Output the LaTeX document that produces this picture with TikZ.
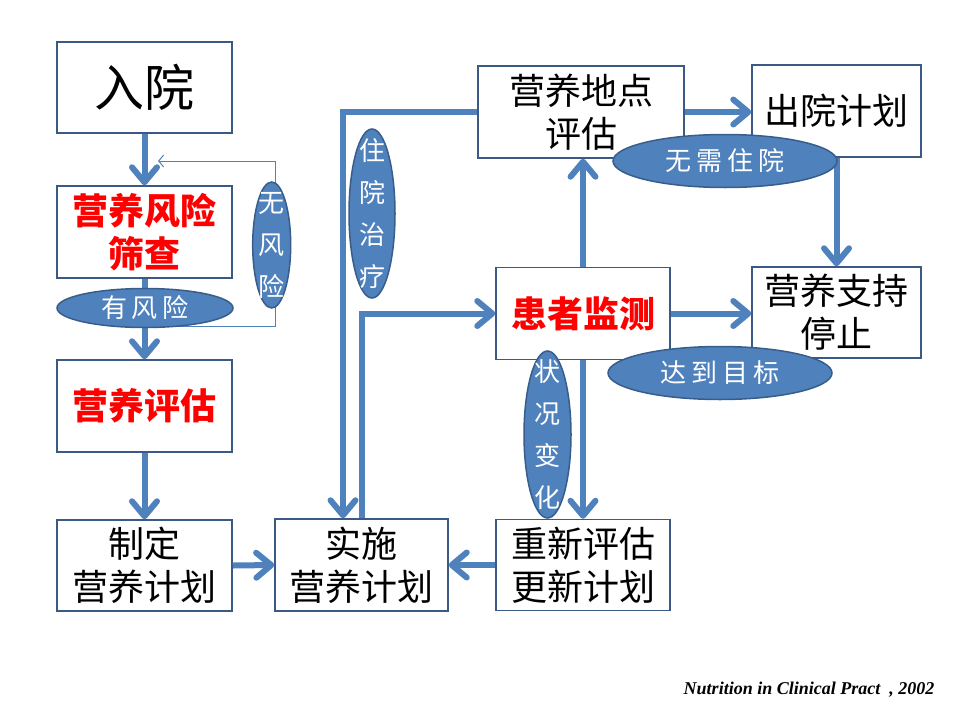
\documentclass[tikz,border=0pt]{standalone}
\usepackage{fontspec}
\setmainfont{Liberation Serif}
\newfontfamily\cjk{Noto Sans CJK SC}
\usetikzlibrary{arrows.meta,shapes.geometric}
\definecolor{arrowblue}{HTML}{4F81BD}
\definecolor{edgeblue}{HTML}{385D8A}
\definecolor{boxedge}{HTML}{3A5A85}
\newcommand{\gapx}{\hspace{5pt}}
\begin{document}
\begin{tikzpicture}[x=1pt,y=-1pt,
  box/.style={draw=boxedge, line width=1.5pt, fill=white, inner sep=0pt, align=center,
    font=\cjk\fontsize{36}{43}\selectfont},
  hot/.style={text=red, font=\cjk\bfseries\fontsize{36}{43}\selectfont},
  flow/.style={draw=arrowblue, line width=6pt, -{Straight Barb[length=15pt,width=25pt,round]}},
  thinflow/.style={draw=arrowblue, line width=1pt, -{Straight Barb[length=5pt,width=12pt]}},
  ell/.style={ellipse, draw=edgeblue, line width=1.5pt, fill=arrowblue, inner sep=0pt},
  elltext/.style={text=white, align=center, inner sep=0pt, font=\cjk\fontsize{26}{42}\selectfont}
]
\useasboundingbox (0,0) rectangle (960,720);

% boxes
\node[box, minimum width=175pt, minimum height=91pt] (n1) at (144.5,87.5) {\fontsize{50}{50}\selectfont 入院};
\node[box, hot, minimum width=175pt, minimum height=92pt] (n2) at (144.5,232) {营养风险\\筛查};
\node[box, hot, minimum width=175pt, minimum height=92pt] (n3) at (144.5,406) {营养评估};
\node[box, minimum width=175pt, minimum height=91pt] (n4) at (144.5,565.5) {制定\\营养计划};
\node[box, minimum width=173pt, minimum height=92pt] (n5) at (361.5,565) {实施\\营养计划};
\node[box, minimum width=174pt, minimum height=91pt] (n6) at (583,565) {重新评估\\更新计划};
\node[box, hot, minimum width=174pt, minimum height=92pt] (n7) at (583,313.5) {患者监测};
\node[box, minimum width=206pt, minimum height=92pt] (n8) at (581,112) {营养地点\\评估};
\node[box, minimum width=169pt, minimum height=92pt] (n9) at (836.5,111) {出院计划};
\node[box, minimum width=169pt, minimum height=91pt] (n10) at (836.5,312.5) {营养支持\\停止};

% connectors
\draw[flow] (n1.south) -- (n2.north);
\draw[flow] (n2.south) -- (n3.north);
\draw[flow] (n3.south) -- (n4.north);
\draw[flow] (n4.east) -- (n5.west);
\draw[flow] (n6.west) -- (n5.east);
\draw[flow] (n8.west) -| ([xshift=-18.5pt]n5.north);
\draw[flow] (n5.north) |- (n7.west);
\draw[flow] (n7.north) -- (n7.north |- n8.south);
\draw[flow] (n7.south) -- (n6.north);
\draw[flow] (n7.east) -- (n7.east -| n10.west);
\draw[flow] (n8.east) -- (n8.east -| n9.west);
\draw[flow] (n9.south) -- (n10.north);

% thin loop (no risk)
\coordinate (la) at (144.5,326);
\coordinate (lc) at (275,161);
\coordinate (ld) at (158,161);
\draw[thinflow] (la) -| (lc) -- (ld);

% ellipses
\node[ell, minimum width=176pt, minimum height=39pt] (e1) at (145,308) {};
\node[elltext] (e1t) at (e1) {有\gapx 风\gapx 险};
\node[ell, minimum width=38pt, minimum height=126pt] (e2) at (271.7,245) {};
\node[elltext] (e2t) at (e2) {无\\风\\险};
\node[ell, minimum width=46pt, minimum height=169pt] (e3) at (372,213.5) {};
\node[elltext] (e3t) at (e3) {住\\院\\治\\疗};
\node[ell, minimum width=224pt, minimum height=53pt] (e4) at (725,161) {};
\node[elltext] (e4t) at (e4) {无\gapx 需\gapx 住\gapx 院};
\node[ell, minimum width=224pt, minimum height=53pt] (e5) at (720,373) {};
\node[elltext] (e5t) at (e5) {达\gapx 到\gapx 目\gapx 标};
\node[ell, minimum width=47pt, minimum height=167pt] (e6) at (547.5,434.5) {};
\node[elltext] (e6t) at (e6) {状\\况\\变\\化};

% reference
\node[font=\fontsize{18}{21}\selectfont\bfseries\itshape, inner sep=0pt] (ref) at (809,690) {Nutrition in Clinical Pract\ \ , 2002};
\end{tikzpicture}
\end{document}
